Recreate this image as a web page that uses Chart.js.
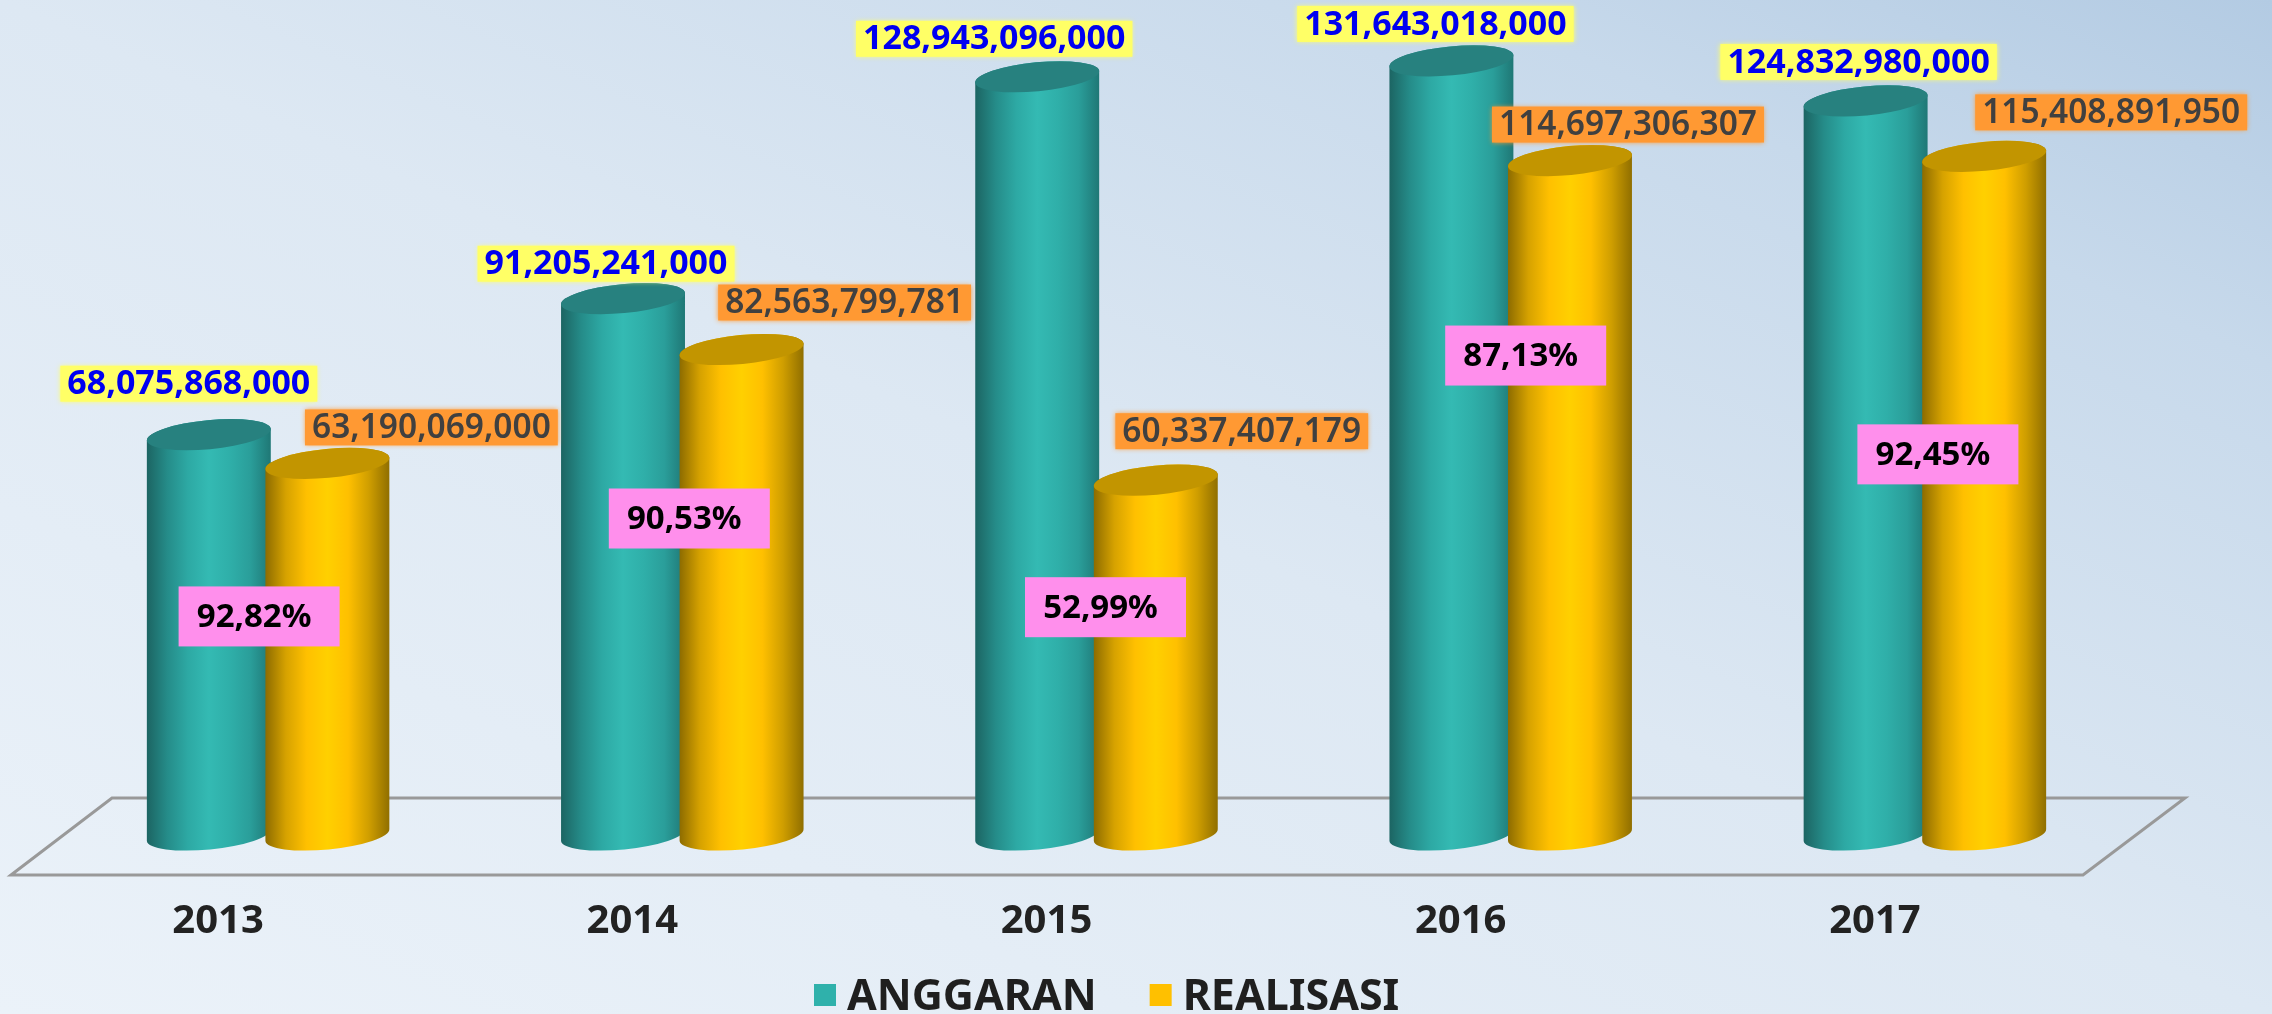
<!DOCTYPE html>
<html>
<head>
<meta charset="utf-8">
<title>Anggaran dan Realisasi</title>
<script src="https://cdn.jsdelivr.net/npm/chart.js@4"></script>
<style>
    html, body {
        margin: 0;
        width: 2272px;
        height: 1014px;
        overflow: hidden;
        background: linear-gradient(to top right, #ebf2f9 0%, #dde8f3 50%, #c7d9eb 82%, #b3cbe3 100%);
    }
    canvas { display: block; }
</style>
</head>
<body>
<canvas id="budgetChart" width="2272" height="1014"></canvas>
<script>
// Chart data
const years = ['2013', '2014', '2015', '2016', '2017'];
const anggaran = [68075868000, 91205241000, 128943096000, 131643018000, 124832980000];
const realisasi = [63190069000, 82563799781, 60337407179, 114697306307, 115408891950];
const persen = ['92,82%', '90,53%', '52,99%', '87,13%', '92,45%'];

// Label offsets from the top of each bar, [dx, dy]
const anggaranLabelOffsets = [[-20, -51], [-17, -35], [-43, -38], [-16, -37], [-7, -39]];
const realisasiLabelOffsets = [[104, -36], [103, -47], [86, -49], [58, -36], [127, -44]];
// Percent tags: dx from the category centre, dy from the top of the gold bar
const persenOffsets = [[-9, 153], [7, 169], [9, 127], [15, 195], [13, 298]];

// Side shading of the cylinders
const tealStops = ['#1c6462', '#258c89', '#2da9a4', '#34bab3', '#2fafa9', '#2a9e9a', '#1f7775'];
const goldStops = ['#8c6b00', '#d6a200', '#ffc000', '#ffd000', '#ffc000', '#cf9e00', '#8f6e00'];

const TILT = -0.095;
const RY = 14.5;

function drawCylinder(ctx, bar, stops, topColor) {
    const left = bar.x - bar.width / 2;
    const right = bar.x + bar.width / 2;
    const rx = bar.width / 2;

    const grad = ctx.createLinearGradient(left, 0, right, 0);
    stops.forEach((c, i) => grad.addColorStop(i / (stops.length - 1), c));

    ctx.beginPath();
    ctx.ellipse(bar.x, bar.y, rx, RY, TILT, 0, Math.PI, true);
    ctx.ellipse(bar.x, bar.base, rx, RY, TILT, Math.PI, 0, true);
    ctx.closePath();
    ctx.fillStyle = grad;
    ctx.fill();

    ctx.beginPath();
    ctx.ellipse(bar.x, bar.y, rx, RY, TILT, 0, Math.PI * 2);
    ctx.fillStyle = topColor;
    ctx.fill();
}

function drawTag(ctx, text, x, y, opts) {
    ctx.font = opts.font;
    ctx.textAlign = 'center';
    ctx.textBaseline = 'middle';
    const w = opts.width || ctx.measureText(text).width + 14;
    const h = opts.height;
    ctx.save();
    if (opts.glow) {
        ctx.shadowColor = opts.fill;
        ctx.shadowBlur = 5;
    }
    ctx.fillStyle = opts.fill;
    ctx.fillRect(x - w / 2, y - h / 2, w, h);
    ctx.restore();
    ctx.fillStyle = opts.color;
    ctx.fillText(text, x + (opts.textShift || 0), y + 1);
}

// Legend drawn by hand, the box to text gap of the built-in one is too wide
function drawLegend(chart) {
    const ctx = chart.ctx;
    const y = 995;
    let x = 814;
    ctx.font = 'bold 43px "Noto Sans"';
    ctx.textAlign = 'left';
    ctx.textBaseline = 'middle';
    chart.data.datasets.forEach(ds => {
        ctx.fillStyle = ds.backgroundColor;
        ctx.fillRect(x, y - 11, 22, 22);
        ctx.fillStyle = '#1f1f1f';
        ctx.fillText(ds.label, x + 33, y + 3);
        x += 33 + ctx.measureText(ds.label).width + 53;
    });
}

// Floor, cylinders and labels all read their position from the chart's elements
const cylinderPlugin = {
    id: 'cylinders',
    beforeDatasetsDraw(chart) {
        const ctx = chart.ctx;
        const area = chart.chartArea;
        const tealMeta = chart.getDatasetMeta(0);
        const goldMeta = chart.getDatasetMeta(1);

        // floor
        ctx.save();
        ctx.beginPath();
        ctx.moveTo(area.left - 50, area.bottom + 40);
        ctx.lineTo(area.left + 51, area.bottom - 37);
        ctx.lineTo(area.right + 53, area.bottom - 37);
        ctx.lineTo(area.right - 49, area.bottom + 40);
        ctx.closePath();
        ctx.strokeStyle = '#999999';
        ctx.lineWidth = 3;
        ctx.stroke();

        years.forEach((y, i) => {
            drawCylinder(ctx, tealMeta.data[i], tealStops, '#27817f');
            drawCylinder(ctx, goldMeta.data[i], goldStops, '#c29500');
        });
        ctx.restore();
        return false;
    },
    afterDraw(chart) {
        const ctx = chart.ctx;
        const tealMeta = chart.getDatasetMeta(0);
        const goldMeta = chart.getDatasetMeta(1);
        const xScale = chart.scales.x;
        ctx.save();
        years.forEach((y, i) => {
            const teal = tealMeta.data[i];
            const gold = goldMeta.data[i];
            drawTag(ctx, anggaran[i].toLocaleString('en-US'), teal.x + anggaranLabelOffsets[i][0], teal.y + anggaranLabelOffsets[i][1], {
                font: 'bold 34px "Noto Sans"', fill: '#ffff66', color: '#0000f0', height: 36, glow: true
            });
            drawTag(ctx, realisasi[i].toLocaleString('en-US'), gold.x + realisasiLabelOffsets[i][0], gold.y + realisasiLabelOffsets[i][1], {
                font: '600 33.5px "Noto Sans"', fill: '#ff9933', color: '#404040', height: 36, glow: true
            });
            drawTag(ctx, persen[i], xScale.getPixelForValue(i) + persenOffsets[i][0], gold.y + persenOffsets[i][1], {
                font: 'bold 33px "Noto Sans"', fill: '#ff8fec', color: '#000000', height: 60, width: 161, textShift: -5
            });
        });
        drawLegend(chart);
        ctx.restore();
    }
};

new Chart(document.getElementById('budgetChart'), {
    type: 'bar',
    data: {
        labels: years,
        datasets: [
            { label: 'ANGGARAN', data: anggaran, backgroundColor: '#2fb1ab', borderWidth: 0 },
            { label: 'REALISASI', data: realisasi, backgroundColor: '#ffc000', borderWidth: 0 }
        ]
    },
    options: {
        responsive: false,
        animation: false,
        categoryPercentage: 0.5725,
        barPercentage: 1.05,
        layout: { padding: { left: 61, right: 140, top: 0, bottom: 13 } },
        scales: {
            x: {
                grid: { display: false },
                border: { display: false },
                ticks: {
                    padding: 55,
                    labelOffset: -50,
                    maxRotation: 0,
                    color: '#222222',
                    font: { family: '"Noto Sans"', size: 40, weight: 'bold' }
                }
            },
            y: { display: false, min: 0, max: 142000000000 }
        },
        plugins: {
            tooltip: { enabled: false },
            legend: { display: false }
        }
    },
    plugins: [cylinderPlugin]
});
</script>
</body>
</html>
